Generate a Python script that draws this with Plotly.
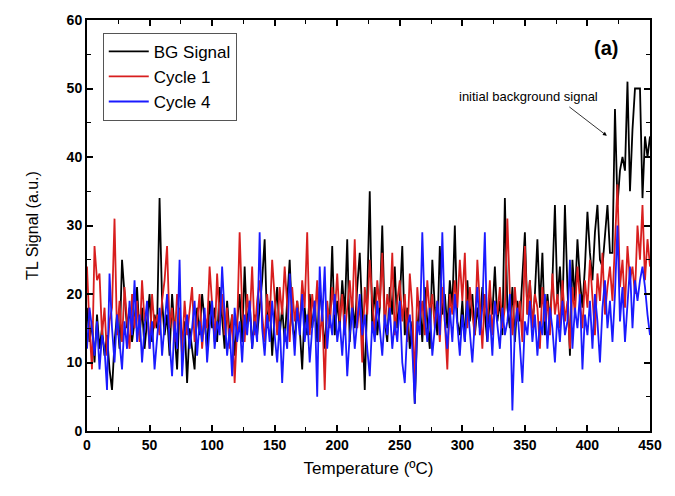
import numpy as np
import plotly.graph_objects as go

temperature = list(range(0, 451, 2))

bg_signal = [
    18, 13, 16, 10, 17, 12, 15, 11, 14, 9,
    6, 13, 17, 12, 25, 20, 15, 18, 13, 16,
    21, 14, 18, 12, 16, 20, 13, 17, 15, 34,
    19, 14, 17, 11, 20, 15, 9, 18, 13, 16,
    7, 15, 12, 9, 18, 14, 20, 16, 12, 19,
    15, 18, 13, 21, 16, 12, 19, 14, 17, 11,
    16, 20, 13, 24, 15, 19, 12, 17, 14, 18,
    22, 28, 15, 19, 11, 17, 21, 14, 18, 13,
    20, 25, 16, 13, 19, 15, 9, 18, 14, 20,
    15, 19, 13, 21, 17, 12, 18, 16, 27, 14,
    19, 15, 22, 17, 28, 13, 19, 15, 21, 26,
    17, 6, 20, 35, 15, 21, 14, 18, 30, 16,
    13, 21, 17, 24, 15, 19, 27, 14, 18, 12,
    16, 4, 15, 19, 13, 21, 16, 12, 25, 18,
    14, 27, 17, 20, 15, 22, 18, 30, 16, 14,
    19, 13, 22, 16, 20, 14, 18, 15, 21, 17,
    13, 20, 17, 24, 16, 19, 14, 34, 18, 15,
    21, 13, 19, 16, 23, 29, 17, 22, 15, 20,
    28, 18, 26, 14, 20, 16, 22, 33, 19, 24,
    17, 33, 21, 11, 25, 19, 28, 22, 18, 24,
    32, 26, 22, 29, 33, 25, 24, 28, 33, 26,
    26, 47, 33, 38, 40, 38, 51, 35, 44, 50,
    50, 50, 34, 43, 40, 43,
]

cycle1 = [
    24, 15, 9, 27, 22, 23, 14, 18, 11, 16,
    18, 31, 14, 19, 13, 21, 16, 12, 20, 15,
    19, 13, 22, 16, 18, 12, 20, 15, 17, 14,
    19, 22, 27, 15, 18, 13, 20, 17, 11, 19,
    14, 18, 21, 13, 16, 20, 12, 17, 15, 24,
    19, 13, 23, 16, 20, 14, 18, 12, 17, 7,
    15, 29, 18, 13, 20, 16, 24, 14, 19, 22,
    17, 13, 20, 16, 25, 19, 14, 21, 17, 24,
    18, 13, 21, 16, 19, 15, 22, 18, 29, 14,
    20, 16, 22, 13, 18, 6, 19, 15, 21, 17,
    23, 16, 20, 14, 18, 22, 17, 28, 15, 19,
    10, 21, 17, 25, 19, 14, 22, 18, 26, 15,
    20, 17, 26, 14, 19, 22, 16, 20, 13, 23,
    18, 7, 21, 16, 19, 14, 22, 17, 20, 15,
    19, 13, 21, 16, 9, 20, 17, 22, 18, 25,
    19, 26, 15, 21, 17, 14, 25, 18, 12, 20,
    16, 22, 14, 19, 17, 21, 15, 18, 31, 20,
    14, 21, 16, 19, 13, 27, 17, 22, 15, 20,
    18, 12, 21, 16, 19, 14, 23, 17, 20, 15,
    22, 16, 19, 12, 21, 17, 24, 19, 15, 22,
    18, 25, 20, 14, 23, 19, 26, 17, 21, 24,
    19, 28, 36, 21, 25, 18, 27, 22, 24, 20,
    30, 25, 33, 22, 28, 24,
]

cycle4 = [
    12, 18, 15, 11, 16, 9, 14, 12, 6, 23,
    15, 10, 17, 13, 9, 16, 12, 19, 14, 22,
    13, 17, 10, 15, 19, 12, 16, 9, 14, 18,
    11, 15, 20, 13, 8, 16, 12, 25, 8, 14,
    17, 12, 15, 19, 11, 16, 13, 18, 10, 15,
    19, 12, 16, 14, 24, 17, 11, 15, 8, 18,
    13, 16, 10, 17, 14, 19, 12, 16, 13, 29,
    15, 11, 17, 13, 19, 14, 10, 16, 7, 15,
    12, 23, 16, 11, 18, 14, 20, 13, 17, 10,
    15, 19, 5, 24, 16, 24, 12, 17, 14, 20,
    13, 16, 11, 17, 8, 14, 18, 12, 16, 20,
    14, 17, 12, 8, 16, 13, 19, 15, 11, 17,
    14, 18, 12, 16, 13, 19, 10, 7, 15, 17,
    12, 4, 16, 14, 29, 17, 13, 18, 11, 15,
    19, 14, 29, 16, 12, 18, 13, 20, 15, 11,
    17, 13, 19, 15, 10, 16, 21, 14, 18, 29,
    13, 17, 11, 19, 15, 12, 18, 14, 16, 20,
    3, 15, 18, 12, 7, 16, 14, 19, 13, 17,
    11, 16, 14, 20, 12, 18, 15, 10, 17, 13,
    19, 14, 16, 25, 12, 18, 15, 20, 9, 17,
    14, 19, 12, 20, 16, 10, 18, 22, 15, 19,
    13, 20, 30, 16, 21, 13, 18, 24, 15, 22,
    19, 22, 24, 21, 17, 14,
]

series_names = ["BG Signal", "Cycle 1", "Cycle 4"]
series_colors = ["#000000", "#D81E1E", "#1A1AFF"]

assert len(bg_signal) == len(temperature), len(bg_signal)
assert len(cycle1) == len(temperature), len(cycle1)
assert len(cycle4) == len(temperature), len(cycle4)

fig = go.Figure()
for name, ys, col in zip(series_names, [bg_signal, cycle1, cycle4], series_colors):
    fig.add_trace(go.Scatter(x=temperature, y=ys, mode="lines", name=name,
                             line=dict(color=col, width=1.8)))

font_family = "Liberation Sans, Arial, sans-serif"
axis_common = dict(
    showline=True, linecolor="black", linewidth=2, mirror="allticks",
    ticks="inside", ticklen=6, tickwidth=1.5, tickcolor="black",
    showgrid=False, zeroline=False,
    tickfont=dict(family=font_family, size=14, color="black", weight="bold"),
)

fig.update_xaxes(range=[0, 450], dtick=50, tick0=0,
                 minor=dict(dtick=25, ticks="inside", ticklen=4, tickcolor="black", tickwidth=1.2),
                 title=dict(text="Temperature (ºC)", font=dict(family=font_family, size=17, color="black"),
                            standoff=10),
                 **axis_common)
fig.update_yaxes(range=[0, 60], dtick=10, tick0=0,
                 minor=dict(dtick=5, ticks="inside", ticklen=4, tickcolor="black", tickwidth=1.2),
                 title=dict(text="TL Signal (a.u.)", font=dict(family=font_family, size=16, color="black"),
                            standoff=24),
                 **axis_common)

fig.add_annotation(x=414.7, y=55.9, text="<b>(a)</b>", showarrow=False,
                   font=dict(family=font_family, size=20, color="black"))
fig.add_annotation(x=353, y=48.9, text="initial background signal", showarrow=False,
                   font=dict(family=font_family, size=13, color="black"))
fig.add_annotation(x=415.5, y=43.1, ax=-39, ay=-30, text="", showarrow=True,
                   arrowhead=2, arrowsize=1, arrowwidth=0.8, arrowcolor="black")

fig.update_layout(
    width=675, height=496,
    margin=dict(l=87, r=25, t=12, b=65),
    paper_bgcolor="white", plot_bgcolor="white",
    showlegend=True,
    legend=dict(x=0.028, y=0.969, xanchor="left", yanchor="top",
                bordercolor="#555555", borderwidth=1, bgcolor="rgba(255,255,255,0)",
                font=dict(family=font_family, size=17, color="black"),
                tracegroupgap=0, itemwidth=40),
)

fig.write_html("out.html")
